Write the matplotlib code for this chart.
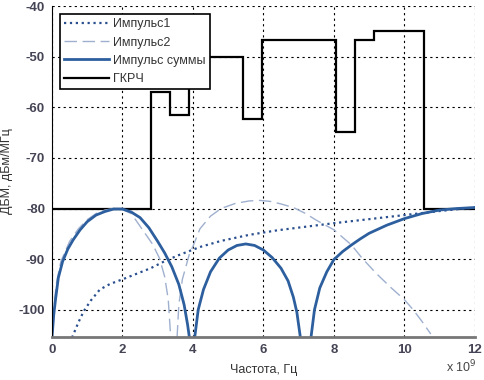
import numpy as np
import matplotlib
matplotlib.use("Agg")
import matplotlib.pyplot as plt

# frequency in GHz (axis shown x 10^9), levels in dBm/MHz
imp1_x = [0.57, 0.75, 0.9, 1.1, 1.36, 1.65, 2.0, 2.4, 2.8, 3.2, 3.6, 4.2, 4.8, 5.6,
          6.4, 7.2, 8.0, 9.0, 10.0, 11.0, 12.0]
imp1_y = [-105.5, -102.5, -100.3, -98.2, -96.0, -94.9, -94.0, -92.9, -91.8, -90.4, -89.2,
          -87.6, -86.4, -85.2, -84.3, -83.6, -82.9, -82.1, -81.3, -80.5, -79.8]

imp2_x = [0.0, 0.05, 0.12, 0.25, 0.5, 0.75, 1.0, 1.25, 1.5, 1.75, 2.0, 2.25, 2.6, 2.85,
          3.05, 3.2, 3.3, 3.37, np.nan,
          3.55, 3.6, 3.7, 3.8, 3.9, 4.0, 4.2, 4.5, 4.8, 5.2, 5.6, 5.9, 6.2, 6.5, 6.85,
          7.2, 7.5, 8.0, 8.5, 8.8, 9.2, 9.6, 10.0, 10.25, 10.5, 10.75]
imp2_y = [-105.5, -100, -95, -90.5, -86.5, -84, -82.2, -81, -80.3, -80, -80.2, -81,
          -84.5, -87, -89.8, -93.5, -98, -105.5, np.nan,
          -105.5, -99, -94, -91.5, -89, -87.5, -84, -81.5, -80, -79, -78.5, -78.4, -78.6,
          -79.1, -79.8, -81, -82.3, -84.2, -87.2, -89.8, -92.8, -95.5, -98, -100, -102.3,
          -104.8]

sum_x = [0.0, 0.05, 0.1, 0.18, 0.3, 0.45, 0.6, 0.8, 1.0, 1.25, 1.5, 1.75, 2.0, 2.25,
         2.5, 2.75, 3.0, 3.2, 3.4, 3.6, 3.75, 3.85, 3.9, np.nan,
         4.05, 4.15, 4.3, 4.5, 4.75, 5.0, 5.25, 5.5, 5.75, 6.0, 6.25, 6.5, 6.7, 6.85,
         6.95, 7.05, np.nan,
         7.35, 7.45, 7.6, 7.8, 8.0, 8.25, 8.5, 8.75, 9.0, 9.5, 10.0, 10.5, 11.0, 11.5, 12.0]
sum_y = [-105.5, -101, -98, -93.7, -90.5, -88, -86.2, -84.2, -82.6, -81.3, -80.6, -80.1,
         -80.1, -80.7, -81.8, -83.8, -86.5, -88.8, -91.5, -95, -99, -103, -105.5, np.nan,
         -105.5, -100, -96, -92.5, -89.8, -88.2, -87.3, -87.0, -87.3, -88.2, -89.7, -91.8,
         -94.3, -97.5, -100.5, -105.5, np.nan,
         -105.5, -100, -95.7, -92.5, -90.1, -88.5, -87.2, -86, -84.9, -83.3, -82.0, -81,
         -80.3, -80, -79.8]

gkrch_edges = [0, 2.81, 3.35, 3.9, 5.41, 5.97, 8.06, 8.59, 9.13, 10.57, 12]
gkrch_levels = [-80, -57, -61.5, -50, -62.3, -46.8, -64.8, -46.8, -44.9, -80]

plt.rcParams['font.family'] = ['Liberation Sans', 'DejaVu Sans']
plt.rcParams['axes.unicode_minus'] = False

fig = plt.figure(figsize=(4.84, 3.80), dpi=100)
ax = fig.add_axes([0.1074, 0.113, 0.8736, 0.871])

ax.plot(imp1_x, imp1_y, color="#2a4f8f", linestyle=":", linewidth=1.6, label="Импульс1")
ax.plot(imp2_x, imp2_y, color="#9fb0cf", linestyle=(0, (9, 4)), linewidth=1.0, label="Импульс2")
ax.plot(sum_x, sum_y, color="#2d5f9e", linewidth=2.0, label="Импульс суммы")
ax.stairs(gkrch_levels, gkrch_edges, baseline=None, color="black", linewidth=1.6, label="ГКРЧ")

ax.set_xlim(0, 12)
ax.set_ylim(-105.4, -40)
ax.set_xticks(range(0, 13, 2))
ax.set_yticks(range(-100, -39, 10))
ax.grid(True, color="black", linestyle=(0, (2, 3)), linewidth=0.8)
ax.spines['top'].set_visible(False)
ax.spines['right'].set_visible(False)
ax.spines['left'].set_color("black")
ax.spines['bottom'].set_color("#777777")
ax.spines['bottom'].set_linewidth(2)
ax.tick_params(length=0, labelsize=9.5, labelcolor="#444455", pad=5)
for lab in ax.get_xticklabels() + ax.get_yticklabels():
    lab.set_fontweight("bold")

ax.set_xlabel("Частота, Гц", fontsize=9, color="#333333", labelpad=6)
ax.set_ylabel("ДБМ, дБм/МГц", fontsize=9, color="#333333", labelpad=4)
fig.text(0.985, 0.012, r"x 10$^9$", ha="right", va="bottom",
         fontsize=9, color="#444444")

leg = ax.legend(loc="upper left", bbox_to_anchor=(0.004, 0.995), fontsize=9,
                handlelength=3.6, fancybox=False, framealpha=1, edgecolor="black",
                borderpad=0.35, labelspacing=0.5, handletextpad=0.3)
leg.get_frame().set_linewidth(1.2)
for t in leg.get_texts():
    t.set_color("#333333")

fig.savefig("out.png", dpi=100)
